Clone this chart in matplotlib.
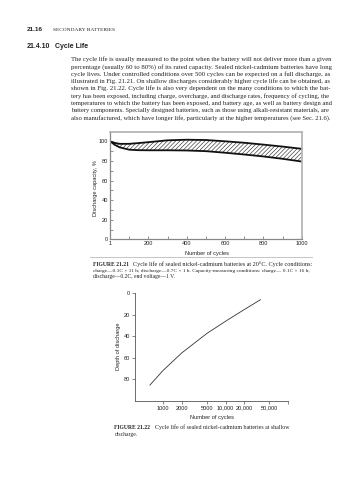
import matplotlib
matplotlib.use('Agg')
import matplotlib.pyplot as plt
from matplotlib.lines import Line2D

# page text
header_num = "21.16"
header_title = "SECONDARY BATTERIES"
section_num = "21.4.10"
section_title = "Cycle Life"
body_lines = [
    "The cycle life is usually measured to the point when the battery will not deliver more than a given",
    "percentage (usually 60 to 80%) of its rated capacity. Sealed nickel-cadmium batteries have long",
    "cycle lives. Under controlled conditions over 500 cycles can be expected on a full discharge, as",
    "illustrated in Fig. 21.21. On shallow discharges considerably higher cycle life can be obtained, as",
    "shown in Fig. 21.22. Cycle life is also very dependent on the many conditions to which the bat-",
    "tery has been exposed, including charge, overcharge, and discharge rates, frequency of cycling, the",
    "temperatures to which the battery has been exposed, and battery age, as well as battery design and",
    "battery components. Specially designed batteries, such as those using alkali-resistant materials, are",
    "also manufactured, which have longer life, particularly at the higher temperatures (see Sec. 21.6).",
]
caption1_lines = [
    "Cycle life of sealed nickel-cadmium batteries at 20\u00b0C. Cycle conditions:",
    "charge\u20140.1C \u00d7 11 h; discharge\u20140.7C \u00d7 1 h. Capacity-measuring conditions: charge\u2014 0.1C \u00d7 16 h;",
    "discharge\u20140.2C, end voltage\u20141 V.",
]
caption2_lines = [
    "Cycle life of sealed nickel-cadmium batteries at shallow",
    "discharge.",
]

# fig 21.21 - capacity band vs cycles
cycles = [1, 25, 50, 100, 150, 200, 300, 400, 500, 600, 700, 800, 900, 1000]
cap_upper = [100, 98.5, 97.6, 97.6, 98.4, 99.3, 101.2, 101.8, 101.5, 100.2, 98.7, 96.8, 94.8, 92.5]
cap_lower = [100, 96.5, 94.0, 91.6, 91.1, 91.0, 91.0, 90.8, 90.1, 88.5, 86.7, 84.7, 82.3, 79.5]
x1_ticks = [1, 200, 400, 600, 800, 1000]
y1_ticks = [0, 20, 40, 60, 80, 100]

# fig 21.22 - depth of discharge vs cycles
dod_cycles = [620, 1000, 2000, 5000, 10000, 20000, 36000]
dod_depth = [85.5, 72, 55.5, 37.5, 26, 15, 6]
x2_ticks = [1000, 2000, 5000, 10000, 20000, 50000, 100000]
x2_labels = ['1000', '2000', '5000', '10,000', '20,000', '50,000', '']
y2_ticks = [0, 20, 40, 60, 80]

W, H = 358, 480
SANS = 'Liberation Sans'
SERIF = 'Liberation Serif'
TXT = '#222222'
AX_FS = 4.1

plt.rcParams['hatch.linewidth'] = 0.45
plt.rcParams['hatch.color'] = '#333333'

fig = plt.figure(figsize=(W / 100, H / 100), dpi=100)
renderer = fig.canvas.get_renderer()


def fx(px):
    return px / W


def fy(py):
    return 1 - py / H


def text_width(s, size, family, weight='normal'):
    t = fig.text(0, 0, s, fontsize=size, family=family, weight=weight)
    w = t.get_window_extent(renderer).width
    t.remove()
    return w


def put_line(x0, x1, y, text, base, family, justify=True):
    # stretch a full line to the measure by nudging its size a little
    size = base
    if justify:
        size = base * (x1 - x0) / text_width(text, base, family)
        size = min(max(size, base * 0.9), base * 1.1)
    fig.text(fx(x0), fy(y), text, fontsize=size, family=family, va='baseline',
             ha='left', color=TXT)


# header
fig.text(fx(27), fy(31), header_num, fontsize=4.6, family=SANS, weight='bold', color=TXT, va='baseline')
fig.text(fx(53), fy(31), header_title, fontsize=3.9, family=SERIF, color=TXT, va='baseline')
fig.text(fx(27), fy(47.5), section_num, fontsize=5.0, family=SANS, weight='bold', color=TXT, va='baseline')
fig.text(fx(55), fy(47.5), section_title, fontsize=5.0, family=SANS, weight='bold', color=TXT, va='baseline')

body_y = [59, 66.3, 73.7, 81, 88.3, 95.7, 103, 110.3, 117.7]
body_fs = 10 * 260 / text_width(body_lines[0], 10, SERIF)
for i, (ln, y) in enumerate(zip(body_lines, body_y)):
    put_line(71, 331, y + 2, ln, body_fs, SERIF, justify=i < len(body_lines) - 1)

# ---- Figure 21.21 ----
ax1 = fig.add_axes([fx(110.3), fy(239.3), fx(301.7) - fx(110.3), (239.3 - 131.7) / H])
ax1.fill_between(cycles, cap_lower, cap_upper, facecolor='white', edgecolor='#333333',
                 hatch='////////', linewidth=0)
ax1.plot(cycles, cap_upper, color='#111111', lw=1.3, solid_capstyle='butt')
ax1.plot(cycles, cap_lower, color='#111111', lw=1.3, solid_capstyle='butt')
ax1.set_xlim(1, 1000)
ax1.set_ylim(0, 110)
ax1.set_xticks(x1_ticks)
ax1.set_xticks([100, 300, 500, 700, 900], minor=True)
ax1.set_yticks(y1_ticks)
ax1.set_yticks([10, 30, 50, 70, 90], minor=True)
ax1.tick_params(which='both', direction='in', length=2, width=0.5, color='#666666',
                labelsize=AX_FS, labelcolor=TXT, pad=1.5)
for nm, sp in ax1.spines.items():
    sp.set_color('#888888' if nm in ('left', 'bottom') else '#b0b0b0')
    sp.set_linewidth(0.9 if nm in ('left', 'bottom') else 1.2)
for lab in ax1.get_xticklabels() + ax1.get_yticklabels():
    lab.set_family(SANS)

fig.text(fx(206.7), fy(253.3), "Number of cycles", fontsize=AX_FS, family=SANS, color=TXT,
         ha='center', va='center')
fig.text(fx(96), fy(188), "Discharge capacity, %", fontsize=AX_FS, family=SANS, color=TXT,
         ha='center', va='center', rotation=90)
fig.add_artist(Line2D([fx(90), fx(312)], [fy(256.8), fy(256.8)], color='#bbbbbb', lw=0.6))

# captions: bold figure number, then serif text
fit2 = 10 * (311 - 93) / text_width(caption1_lines[1], 10, SERIF)
cap_fs = fit2 * 1.05
lbl1 = fig.text(fx(93), fy(266.3), "FIGURE 21.21", fontsize=cap_fs, family=SERIF,
                weight='bold', color=TXT, va='baseline')
lw1 = lbl1.get_window_extent(renderer).width
cap1_y = [264.7, 270.3, 276]
put_line(93 + lw1 + 4, 311, cap1_y[0] + 1.6, caption1_lines[0], cap_fs, SERIF)
put_line(93, 311, cap1_y[1] + 1.6, caption1_lines[1], cap_fs, SERIF)
put_line(93, 311, cap1_y[2] + 1.6, caption1_lines[2], cap_fs, SERIF, justify=False)

# ---- Figure 21.22 ----
ax2 = fig.add_axes([fx(134.7), fy(400.7), fx(288.3) - fx(134.7), (400.7 - 293.3) / H])
ax2.plot(dod_cycles, dod_depth, color='#333333', lw=0.6)
ax2.set_xscale('log')
ax2.set_xlim(355, 100000)
ax2.set_ylim(100, 0)
ax2.set_xticks(x2_ticks)
ax2.set_xticklabels(x2_labels)
ax2.minorticks_off()
ax2.set_yticks(y2_ticks)
ax2.tick_params(direction='out', length=2, width=0.5, color='#555555',
                labelsize=AX_FS, labelcolor=TXT, pad=1.5)
ax2.spines['top'].set_visible(False)
ax2.spines['right'].set_visible(False)
for nm in ('left', 'bottom'):
    ax2.spines[nm].set_color('#555555')
    ax2.spines[nm].set_linewidth(0.6)
for lab in ax2.get_xticklabels() + ax2.get_yticklabels():
    lab.set_family(SANS)

fig.text(fx(211.7), fy(417), "Number of cycles", fontsize=AX_FS, family=SANS, color=TXT,
         ha='center', va='center')
fig.text(fx(118.5), fy(346.7), "Depth of discharge", fontsize=AX_FS, family=SANS, color=TXT,
         ha='center', va='center', rotation=90)

lbl2 = fig.text(fx(114.3), fy(429.3), "FIGURE 21.22", fontsize=cap_fs, family=SERIF,
                weight='bold', color=TXT, va='baseline')
lw2 = lbl2.get_window_extent(renderer).width
put_line(114.3 + lw2 + 5, 288, 429.3, caption2_lines[0], cap_fs, SERIF)
put_line(114.3, 288, 435.6, caption2_lines[1], cap_fs, SERIF, justify=False)

fig.savefig('out.png', dpi=100)
